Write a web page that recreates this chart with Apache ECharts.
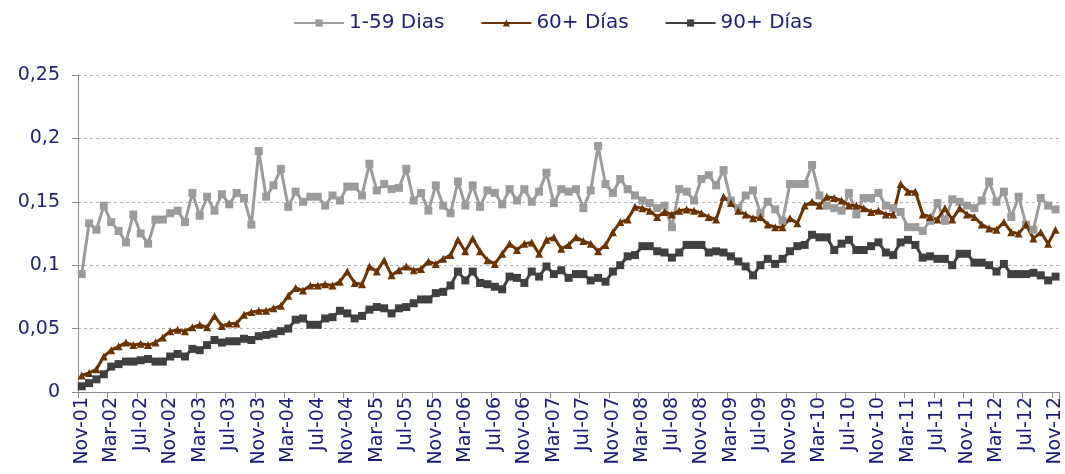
<!DOCTYPE html>
<html>
<head>
<meta charset="utf-8">
<script src="https://cdn.jsdelivr.net/npm/echarts@6/dist/echarts.min.js"></script>
<style>html,body{margin:0;padding:0;background:#fff}#c{width:1065px;height:474px}</style>
</head>
<body>
<div id="c"></div>
<script>
var monthNames = ['Ene','Feb','Mar','Abr','May','Jun','Jul','Ago','Sep','Oct','Nov','Dic'];
var startYear = 2001, startMonth = 10, monthCount = 133; // Nov-01 .. Nov-12
var categories = [];
for (var k = 0; k < monthCount; k++) {
  var m = (startMonth + k) % 12, y = startYear + Math.floor((startMonth + k) / 12);
  categories.push(monthNames[m] + '-' + String(y % 100).padStart(2, '0'));
}
var seriesNames = ['1-59 Dias', '60+ Días', '90+ Días'];
var yTicks = [0, 0.05, 0.1, 0.15, 0.2, 0.25];

var dias1_59 = [0.093,0.133,0.128,0.147,0.134,0.127,0.118,0.140,0.125,0.117,
0.136,0.136,0.141,0.143,0.134,0.157,0.139,0.154,0.143,0.156,
0.148,0.157,0.153,0.132,0.190,0.154,0.163,0.176,0.146,0.158,
0.150,0.154,0.154,0.147,0.155,0.151,0.162,0.162,0.155,0.180,
0.159,0.164,0.160,0.161,0.176,0.151,0.157,0.143,0.163,0.147,
0.141,0.166,0.147,0.163,0.146,0.159,0.157,0.148,0.160,0.151,
0.160,0.150,0.158,0.173,0.149,0.160,0.158,0.160,0.145,0.159,
0.194,0.164,0.157,0.168,0.160,0.155,0.151,0.149,0.145,0.147,
0.130,0.160,0.158,0.151,0.168,0.171,0.163,0.175,0.151,0.145,
0.155,0.159,0.141,0.150,0.144,0.135,0.164,0.164,0.164,0.179,
0.155,0.147,0.145,0.143,0.157,0.140,0.153,0.153,0.157,0.147,
0.145,0.142,0.130,0.130,0.127,0.135,0.149,0.135,0.152,0.150,
0.147,0.145,0.151,0.166,0.150,0.158,0.138,0.154,0.132,0.128,
0.153,0.147,0.144];

var dias60 = [0.013,0.015,0.018,0.028,0.033,0.036,0.039,0.037,0.038,0.037,
0.039,0.043,0.048,0.049,0.048,0.051,0.053,0.051,0.060,0.052,
0.054,0.054,0.061,0.063,0.064,0.064,0.066,0.068,0.076,0.082,
0.080,0.084,0.084,0.085,0.084,0.087,0.095,0.086,0.085,0.099,
0.095,0.104,0.092,0.096,0.099,0.096,0.097,0.103,0.101,0.105,
0.108,0.120,0.111,0.121,0.111,0.104,0.101,0.109,0.117,0.112,
0.117,0.118,0.109,0.120,0.122,0.113,0.116,0.122,0.119,0.117,
0.111,0.116,0.126,0.134,0.136,0.146,0.145,0.143,0.138,0.142,
0.140,0.143,0.144,0.143,0.141,0.138,0.136,0.154,0.149,0.143,
0.140,0.137,0.138,0.132,0.130,0.130,0.137,0.133,0.147,0.150,
0.147,0.154,0.153,0.151,0.147,0.147,0.145,0.142,0.143,0.140,
0.140,0.164,0.158,0.158,0.140,0.138,0.136,0.145,0.136,0.145,
0.140,0.138,0.132,0.129,0.128,0.134,0.126,0.125,0.132,0.121,
0.126,0.117,0.128];

var dias90 = [0.0045,0.007,0.010,0.014,0.020,0.022,0.024,0.024,0.025,0.026,
0.024,0.024,0.028,0.030,0.028,0.034,0.033,0.037,0.041,0.039,
0.040,0.040,0.042,0.041,0.044,0.045,0.046,0.048,0.050,0.057,
0.058,0.053,0.053,0.058,0.059,0.064,0.062,0.058,0.060,0.065,
0.067,0.066,0.062,0.066,0.067,0.070,0.073,0.073,0.078,0.079,
0.084,0.095,0.088,0.095,0.086,0.085,0.083,0.081,0.091,0.090,
0.086,0.095,0.091,0.099,0.093,0.096,0.090,0.093,0.093,0.088,
0.090,0.087,0.095,0.100,0.107,0.108,0.115,0.115,0.111,0.110,
0.106,0.110,0.116,0.116,0.116,0.110,0.111,0.110,0.107,0.103,
0.099,0.092,0.100,0.105,0.101,0.105,0.111,0.115,0.116,0.124,
0.122,0.122,0.112,0.117,0.120,0.112,0.112,0.115,0.118,0.110,
0.108,0.118,0.120,0.116,0.106,0.107,0.105,0.105,0.100,0.109,
0.109,0.102,0.102,0.100,0.095,0.101,0.093,0.093,0.093,0.094,
0.092,0.088,0.091];

var FONT = 'DejaVu Sans';
var NAVY = '#22227a';
function mk(name, data, color, symbol, size) {
  return {
    name: name, type: 'line', data: data,
    symbol: symbol, symbolSize: size, showSymbol: true, showAllSymbol: true,
    lineStyle: {color: color, width: 3},
    itemStyle: {color: color},
    animation: false
  };
}
var chart = echarts.init(document.getElementById('c'));
chart.setOption({
  backgroundColor: '#fff',
  animation: false,
  legend: {
    left: 288, top: 8,
    itemWidth: 50, itemHeight: 9, itemGap: 36,
    textStyle: {fontFamily: FONT, fontSize: 20, color: NAVY},
    data: seriesNames
  },
  grid: {left: 78, right: 0, top: 75, bottom: 82},
  xAxis: {
    type: 'category', data: categories, boundaryGap: true,
    axisLine: {lineStyle: {color: '#8a8a8a', width: 1}},
    axisTick: {show: true, interval: 3, length: 6, lineStyle: {color: '#8a8a8a'}},
    axisLabel: {interval: 3, rotate: 90, margin: 5, fontFamily: FONT, fontSize: 19, color: '#1a1a80'},
    splitLine: {show: false}
  },
  yAxis: {
    type: 'value', min: yTicks[0], max: yTicks[yTicks.length - 1], interval: 0.05,
    axisLine: {show: true, lineStyle: {color: '#8a8a8a', width: 1}},
    axisTick: {show: true, length: 6, lineStyle: {color: '#8a8a8a'}},
    axisLabel: {margin: 18, fontFamily: FONT, fontSize: 19, color: NAVY,
      formatter: function (v) { return String(+v.toFixed(2)).replace('.', ','); }},
    splitLine: {lineStyle: {color: '#b4b4b4', type: [3, 3], width: 1}}
  },
  series: [
    mk(seriesNames[0], dias1_59, '#9b9b9b', 'rect', 8),
    mk(seriesNames[1], dias60, '#6b3300', 'triangle', 8),
    mk(seriesNames[2], dias90, '#404040', 'rect', 8)
  ]
});
</script>
</body>
</html>
